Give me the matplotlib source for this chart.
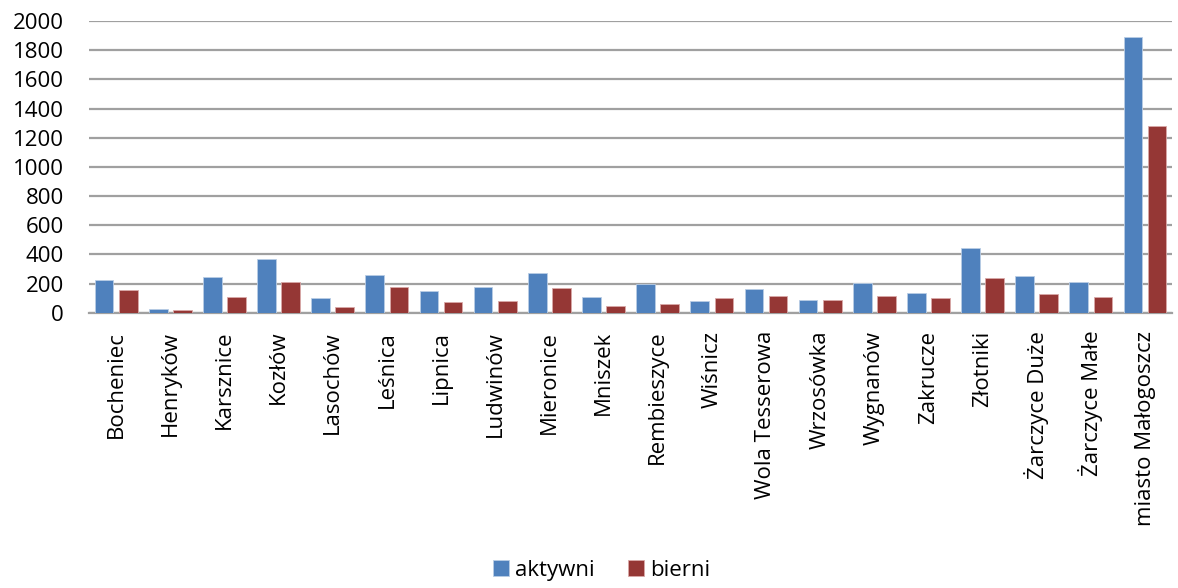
import numpy as np
import matplotlib.pyplot as plt

# dane
miejscowosci = ['Bocheniec', 'Henryków', 'Karsznice', 'Kozłów', 'Lasochów', 'Leśnica',
                'Lipnica', 'Ludwinów', 'Mieronice', 'Mniszek', 'Rembieszyce', 'Wiśnicz',
                'Wola Tesserowa', 'Wrzosówka', 'Wygnanów', 'Zakrucze', 'Złotniki',
                'Żarczyce Duże', 'Żarczyce Małe', 'miasto Małogoszcz']
aktywni = [225, 25, 248, 372, 103, 262, 152, 175, 276, 110, 196, 83, 163, 87, 207, 136,
           442, 251, 212, 1892]
bierni = [159, 18, 108, 212, 39, 179, 76, 83, 168, 48, 58, 103, 117, 87, 115, 99, 239,
          127, 110, 1283]
yticks = np.arange(0, 2001, 200)

niebieski = '#4F81BD'
czerwony = '#953735'

plt.rcParams['font.family'] = ['Open Sans', 'DejaVu Sans']

fig = plt.figure(figsize=(11.78, 5.88), dpi=100)
ax = fig.add_axes([0.0756, 0.468, 0.9194, 0.496])

x = np.arange(len(miejscowosci))
w = 0.345
ax.bar(x - 0.223, aktywni, w, color=niebieski, edgecolor='#b9cde5', linewidth=0.6,
       label='aktywni', zorder=3)
ax.bar(x + 0.223, bierni, w, color=czerwony, edgecolor='#d9a9a8', linewidth=0.6,
       label='bierni', zorder=3)

ax.set_xlim(-0.5, len(miejscowosci) - 0.5)
ax.set_ylim(0, 2000)
ax.set_yticks(yticks)
ax.set_xticks(x)
ax.set_xticklabels(miejscowosci, rotation=90)
ax.tick_params(axis='both', labelsize=16, length=0)
ax.tick_params(axis='x', pad=13)
ax.tick_params(axis='y', pad=18)
ax.grid(axis='y', color='#a0a0a0', linewidth=1.6, zorder=0)
for s in ['top', 'right', 'left']:
    ax.spines[s].set_visible(False)
ax.spines['bottom'].set_color('#a0a0a0')
ax.spines['bottom'].set_linewidth(1.6)

fig.legend(loc='lower center', bbox_to_anchor=(0.511, -0.022), ncol=2, frameon=False,
           fontsize=16, handlelength=0.7, handleheight=0.7, handletextpad=0.3,
           columnspacing=1.5)

fig.savefig('out.png', dpi=100)
